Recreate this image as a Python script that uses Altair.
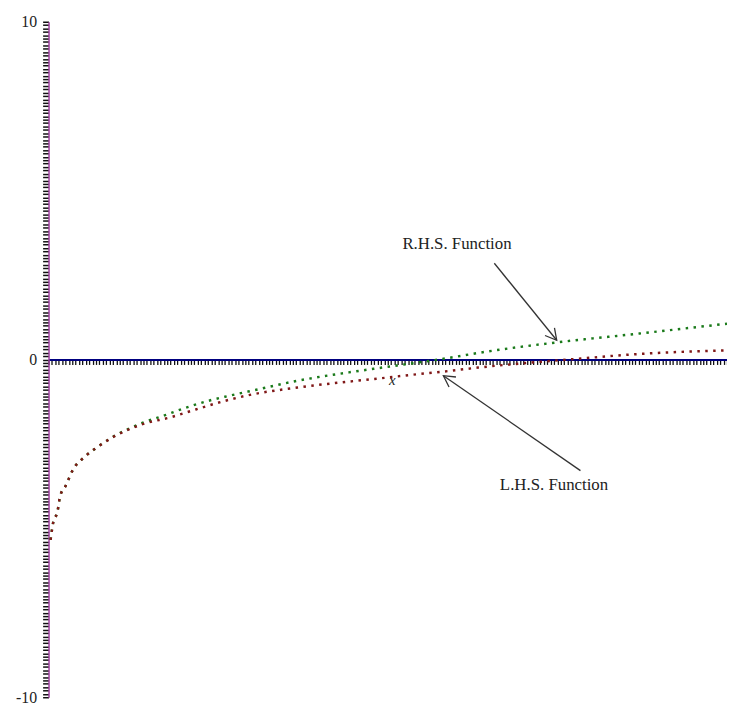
import math
import altair as alt
import pandas as pd

# ---- data ----
rhs_x = [0.03, 0.07, 0.13, 0.17, 0.25, 0.36, 0.54, 0.73, 0.95, 1.15, 1.38, 1.73, 2.02, 2.40,
         2.65, 2.94, 3.67, 4.50, 4.88, 5.75, 6.58, 7.38, 8.76, 10.0]
rhs_y = [-5.34, -4.81, -4.52, -4.05, -3.75, -3.26, -2.87, -2.58, -2.29, -2.08, -1.88, -1.64,
         -1.43, -1.20, -1.08, -0.95, -0.63, -0.36, -0.25, 0.0, 0.27, 0.48, 0.78, 1.06]

lhs_x = [0.03, 0.07, 0.13, 0.17, 0.25, 0.36, 0.54, 0.73, 0.95, 1.15, 1.38, 1.82, 2.17, 2.61,
         2.94, 3.67, 4.40, 4.88, 5.37, 5.81, 6.33, 7.06, 7.67, 8.76, 10.0]
lhs_y = [-5.34, -4.81, -4.52, -4.05, -3.75, -3.26, -2.87, -2.58, -2.30, -2.10, -1.92, -1.70,
         -1.48, -1.22, -1.06, -0.83, -0.66, -0.56, -0.45, -0.36, -0.24, -0.10, 0.0, 0.17, 0.27]

label_text = ["R.H.S. Function", "L.H.S. Function"]
label_x = [6.02, 7.45]
label_y = [3.41, -3.73]

arrow_x = [6.57, 7.84]      # tails
arrow_y = [2.85, -3.29]
arrow_x2 = [7.49, 5.82]     # tips
arrow_y2 = [0.57, -0.48]

x_domain = [0, 10]
y_domain = [-10, 10]
y_ticks = [round(-10 + 0.1 * i, 1) for i in range(201)]
x_ticks = [round(0.05 * i, 2) for i in range(201)]

W, H = 686, 683
px_x = W / (x_domain[1] - x_domain[0])
px_y = H / (y_domain[1] - y_domain[0])

curves = pd.concat([
    pd.DataFrame({"x": rhs_x, "y": rhs_y, "s": "R.H.S."}),
    pd.DataFrame({"x": lhs_x, "y": lhs_y, "s": "L.H.S."}),
])

labels = pd.DataFrame({"t": label_text, "x": label_x, "y": label_y})

angles = []
for a, b, c, d in zip(arrow_x, arrow_y, arrow_x2, arrow_y2):
    dx = (c - a) * px_x
    dy = -(d - b) * px_y
    angles.append(math.degrees(math.atan2(dy, dx)) % 360)
arrows = pd.DataFrame({"x": arrow_x, "y": arrow_y, "x2": arrow_x2, "y2": arrow_y2, "ang": angles})

SERIF = "Liberation Serif"
TXT = "#222222"

x_scale = alt.Scale(domain=x_domain, nice=False, zero=False)
y_scale = alt.Scale(domain=y_domain, nice=False, zero=False)

x_axis = alt.Axis(values=x_ticks, tickCount=1000, labels=False, tickSize=5, tickColor="#111111",
                  tickWidth=1.3, domainColor="#000080", domainWidth=2, grid=False, offset=-H / 2,
                  title="x", titleFont=SERIF, titleFontStyle="italic", titleFontWeight="normal",
                  titleFontSize=15, titleColor=TXT, titleX=347, titleAlign="center",
                  titleY=25, titleBaseline="alphabetic")
y_axis = alt.Axis(values=y_ticks, tickCount=1000, tickSize=6, tickColor="#111111", tickWidth=1.5,
                  domainColor="#a040a0", domainWidth=1.5, grid=False, labelOverlap=False,
                  labelExpr="abs(datum.value-10)<0.001 ? '10' : abs(datum.value+10)<0.001 ? '-10' : abs(datum.value)<0.001 ? '0' : ''",
                  labelFont=SERIF, labelFontSize=16, labelColor=TXT, labelPadding=6, title=None)

base_lines = alt.Chart(curves).mark_line(strokeDash=[2.5, 5.5], strokeWidth=2.5, strokeCap="butt",
                                        interpolate="monotone").encode(
    x=alt.X("x:Q", scale=x_scale, axis=x_axis),
    y=alt.Y("y:Q", scale=y_scale, axis=y_axis),
    color=alt.Color("s:N", scale=alt.Scale(domain=["R.H.S.", "L.H.S."],
                                           range=["#1a7a1a", "#801818"]), legend=None),
    detail="s:N",
)

rules = alt.Chart(arrows).mark_rule(color="#333333", strokeWidth=1.3).encode(
    x=alt.X("x:Q", scale=x_scale), y=alt.Y("y:Q", scale=y_scale), x2="x2:Q", y2="y2:Q")

heads = alt.Chart(arrows).mark_point(shape="M-1,-0.55L0,0L-1,0.55", filled=False, size=500,
                                     color="#333333", strokeWidth=1.3, opacity=1).encode(
    x=alt.X("x2:Q", scale=x_scale), y=alt.Y("y2:Q", scale=y_scale), angle=alt.Angle("ang:Q", scale=None))

texts = alt.Chart(labels).mark_text(font=SERIF, fontSize=17, color=TXT).encode(
    x=alt.X("x:Q", scale=x_scale), y=alt.Y("y:Q", scale=y_scale), text="t:N")

chart = alt.layer(base_lines, rules, heads, texts).properties(
    width=W, height=H,
    autosize=alt.AutoSizeParams(type="none"),
    padding={"left": 41, "top": 10, "right": 0, "bottom": 8},
).configure(background="white", view=alt.ViewConfig(stroke=None))

chart.save("out.html", embed_options={"renderer": "svg", "actions": False})
